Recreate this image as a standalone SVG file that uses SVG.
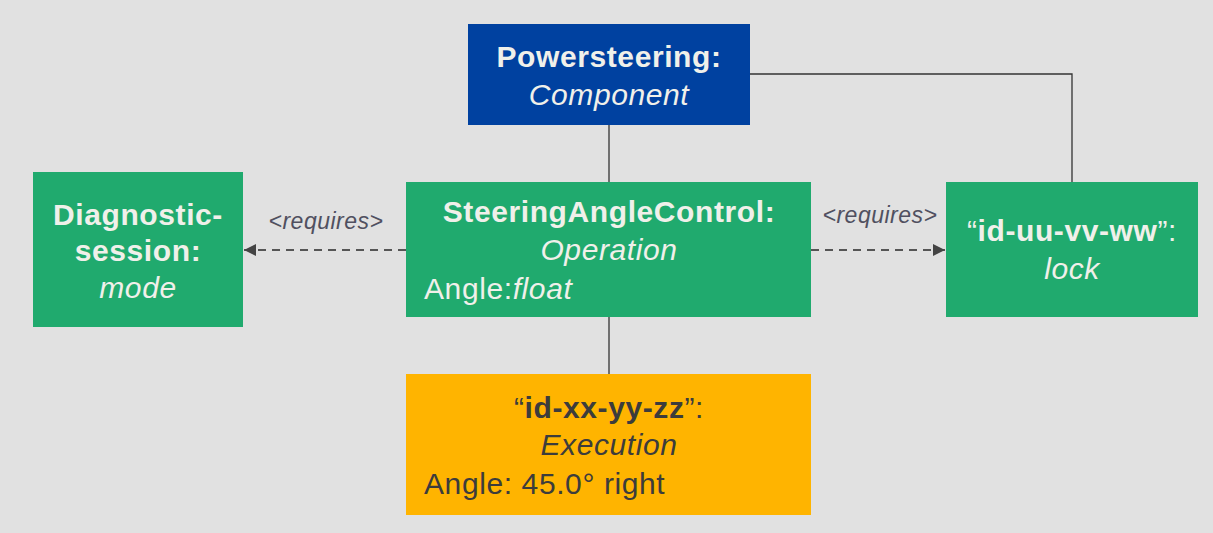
<svg xmlns="http://www.w3.org/2000/svg" width="1213" height="533" viewBox="0 0 1213 533">
<defs>
<style>
.t{font-family:"Liberation Sans",Arial,sans-serif;font-size:30px;letter-spacing:0.6px;}
.w{fill:#f0f0ea;}
.d{fill:#3c3c3c;}
.b{font-weight:bold;}
.i{font-style:italic;}
.c{text-anchor:middle;}
.lbl{font-family:"Liberation Sans",Arial,sans-serif;font-size:23px;letter-spacing:0.5px;font-style:italic;fill:#505060;text-anchor:middle;}
.ln{stroke:#333;stroke-width:1.3;fill:none;}
.dash{stroke:#555;stroke-width:2;stroke-dasharray:8,6;fill:none;}
</style>
<marker id="ah" viewBox="0 0 10 10" refX="10" refY="5" markerWidth="12" markerHeight="12" markerUnits="userSpaceOnUse" orient="auto">
<path d="M0,0 L10,5 L0,10 z" fill="#444"/>
</marker>
</defs>
<rect width="1213" height="533" fill="#e1e1e1"/>
<g id="connectors">
<polyline class="ln" points="750,74 1072,74 1072,182"/>
<line class="ln" x1="609" y1="125" x2="609" y2="182"/>
<line class="ln" x1="609" y1="317" x2="609" y2="374"/>
<line class="dash" x1="406" y1="250" x2="244" y2="250" marker-end="url(#ah)"/>
<line class="dash" x1="811" y1="250" x2="945" y2="250" marker-end="url(#ah)"/>
<text class="lbl" x="326" y="229">&lt;requires&gt;</text>
<text class="lbl" x="880" y="223">&lt;requires&gt;</text>
</g>
<g id="powersteering">
<rect x="468" y="24" width="282" height="101" fill="#0041a0"/>
<text class="t w b c" x="609" y="67">Powersteering:</text>
<text class="t w i c" x="609" y="105">Component</text>
</g>
<g id="diagnostic">
<rect x="33" y="172" width="210" height="155" fill="#20aa6e"/>
<text class="t w b c" x="138" y="225">Diagnostic-</text>
<text class="t w b c" x="138" y="261">session:</text>
<text class="t w i c" x="138" y="298">mode</text>
</g>
<g id="steering">
<rect x="406" y="182" width="405" height="135" fill="#20aa6e"/>
<text class="t w b c" x="609" y="222">SteeringAngleControl:</text>
<text class="t w i c" x="609" y="260">Operation</text>
<text class="t w" x="424" y="299">Angle:<tspan class="i">float</tspan></text>
</g>
<g id="lock">
<rect x="946" y="182" width="252" height="135" fill="#20aa6e"/>
<text class="t w c" x="1072" y="241">“<tspan class="b">id-uu-vv-ww</tspan>”:</text>
<text class="t w i c" x="1072" y="279">lock</text>
</g>
<g id="execution">
<rect x="406" y="374" width="405" height="141" fill="#ffb400"/>
<text class="t d c" x="609" y="418">“<tspan class="b">id-xx-yy-zz</tspan>”:</text>
<text class="t d i c" x="609" y="455">Execution</text>
<text class="t d" x="424" y="494">Angle: 45.0° right</text>
</g>
</svg>
